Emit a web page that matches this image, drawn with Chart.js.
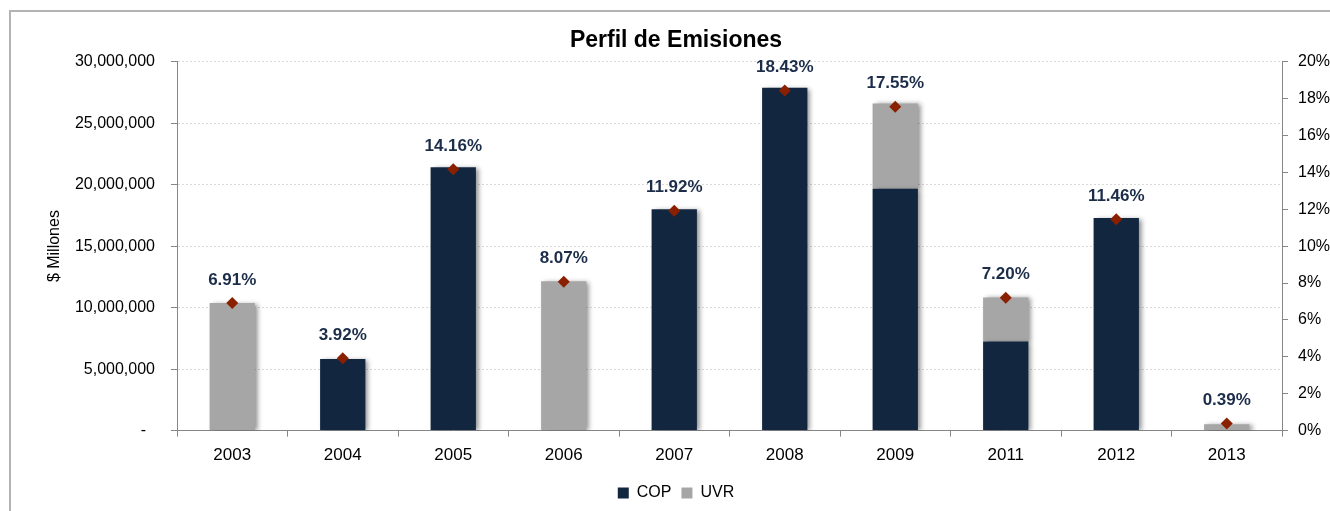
<!DOCTYPE html>
<html lang="es">
<head>
<meta charset="UTF-8">
<title>Perfil de Emisiones</title>
<style>
  body { margin: 0; background: #fff; overflow: hidden; }
  #frame {
    position: absolute; left: 9px; top: 10px; width: 1400px; height: 600px;
    border-top: 2px solid #b3b3b3; border-left: 2px solid #b3b3b3;
  }
  #chart { position: absolute; left: 10px; top: 11px; }
</style>
</head>
<body>
<div id="frame"></div>
<canvas id="chart" width="1332" height="500"></canvas>
<script src="https://cdn.jsdelivr.net/npm/chart.js"></script>
<script>
  // emisiones por año ($ millones) y participación (%)
  const years = ["2003", "2004", "2005", "2006", "2007", "2008", "2009", "2011", "2012", "2013"];
  const cop = [null, 5820000, 21410000, null, 18000000, 27870000, 19660000, 7240000, 17280000, null];
  const uvr = [10370000, null, null, 12140000, null, null, 6940000, 3590000, null, 520000];
  const share = [6.91, 3.92, 14.16, 8.07, 11.92, 18.43, 17.55, 7.20, 11.46, 0.39];

  const FONT = '"Liberation Sans", Arial, sans-serif';
  Chart.defaults.font.family = FONT;
  Chart.defaults.color = "#000";

  const axisGray = "#868686";

  // sombra suave a la derecha de las barras, como en Excel
  const barShadow = {
    id: "barShadow",
    beforeDatasetDraw(chart, args) {
      if (args.meta.type !== "bar") return;
      const ctx = chart.ctx;
      ctx.save();
      ctx.shadowColor = "rgba(0,0,0,0.45)";
      ctx.shadowBlur = 5;
      ctx.shadowOffsetX = 3;
      ctx.shadowOffsetY = 1;
    },
    afterDatasetDraw(chart, args) {
      if (args.meta.type === "bar") chart.ctx.restore();
    }
  };

  const shareLabels = {
    id: "shareLabels",
    afterDatasetsDraw(chart) {
      const meta = chart.getDatasetMeta(2);
      const ctx = chart.ctx;
      ctx.save();
      ctx.font = "bold 17px " + FONT;
      ctx.fillStyle = "#1c2d4a";
      ctx.textAlign = "center";
      ctx.textBaseline = "middle";
      meta.data.forEach((pt, i) => {
        ctx.fillText(share[i].toFixed(2) + "%", pt.x, pt.y - 23);
      });
      ctx.restore();
    }
  };

  new Chart(document.getElementById("chart"), {
    type: "bar",
    data: {
      labels: years,
      datasets: [
        {
          label: "COP",
          data: cop,
          backgroundColor: "#13263f",
          categoryPercentage: 1,
          barPercentage: 0.41,
          order: 1
        },
        {
          label: "UVR",
          data: uvr,
          backgroundColor: "#a6a6a6",
          categoryPercentage: 1,
          barPercentage: 0.41,
          order: 1
        },
        {
          type: "line",
          label: "Participación",
          data: share,
          yAxisID: "y1",
          showLine: false,
          pointStyle: "rectRot",
          pointRadius: 6,
          pointBackgroundColor: "#8b2000",
          pointBorderColor: "#8b2000",
          pointBorderWidth: 0,
          order: 0
        }
      ]
    },
    options: {
      responsive: false,
      animation: false,
      layout: { padding: 0 },
      plugins: {
        title: {
          display: true,
          text: "Perfil de Emisiones",
          color: "#000",
          font: { size: 23, weight: "bold" },
          padding: { top: 16, bottom: 7 }
        },
        legend: {
          position: "bottom",
          labels: {
            boxWidth: 11,
            boxHeight: 11,
            padding: 10,
            font: { size: 16 },
            filter: item => item.datasetIndex < 2
          }
        },
        tooltip: { enabled: false }
      },
      scales: {
        x: {
          stacked: true,
          grid: { drawOnChartArea: false, offset: true, tickLength: 6, color: axisGray },
          border: { color: axisGray },
          ticks: { font: { size: 17 }, padding: 9 }
        },
        y: {
          stacked: true,
          min: 0,
          max: 30000000,
          ticks: {
            stepSize: 5000000,
            padding: 16,
            font: { size: 16 },
            callback: v => v === 0 ? "-  " : v.toLocaleString("en-US")
          },
          grid: { color: "#d9d9d9", tickColor: axisGray, tickLength: 6 },
          border: { color: axisGray, dash: [2, 2] },
          title: {
            display: true,
            text: "$ Millones",
            font: { size: 16 },
            padding: { top: 35, bottom: 0 }
          },
          afterFit: s => { s.width = 167; }
        },
        y1: {
          position: "right",
          min: 0,
          max: 20,
          ticks: {
            stepSize: 2,
            padding: 10,
            font: { size: 16 },
            callback: v => v + "%"
          },
          grid: { drawOnChartArea: false, color: axisGray, tickLength: 6 },
          border: { color: axisGray },
          afterFit: s => { s.width = 60; }
        }
      }
    },
    plugins: [barShadow, shareLabels]
  });
</script>
</body>
</html>
